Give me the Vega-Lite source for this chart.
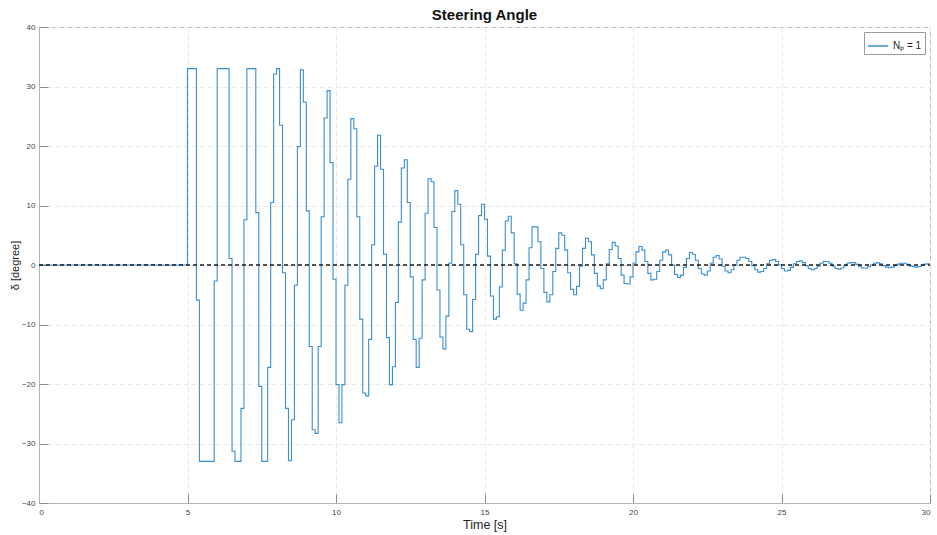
{
  "$schema": "https://vega.github.io/schema/vega-lite/v6.json",
  "width": 891,
  "height": 476,
  "autosize": "none",
  "padding": {"left": 39, "top": 27, "right": 7, "bottom": 32},
  "background": "white",
  "title": {"text": "Steering Angle", "font": "Liberation Sans", "fontSize": 15, "fontWeight": "bold", "color": "#111", "offset": 0, "anchor": "middle"},
  "config": {
    "view": {"stroke": "#b5b5b5", "strokeWidth": 1},
    "font": "Liberation Sans",
    "axis": {
      "domainColor": "#b5b5b5",
      "tickColor": "#8a8a8a",
      "gridColor": "#e9e9e9",
      "gridDash": [5, 3],
      "labelColor": "#444",
      "labelFont": "Liberation Sans",
      "labelFontSize": 8,
      "titleFont": "Liberation Sans",
      "titleColor": "#222",
      "titleFontWeight": "normal"
    },
    "legend": {
      "orient": "top-right",
      "offset": 5,
      "strokeColor": "#9a9a9a",
      "fillColor": "white",
      "padding": 3,
      "symbolType": "stroke",
      "symbolSize": 420,
      "symbolStrokeWidth": 1.5,
      "labelFont": "Liberation Sans",
      "labelFontSize": 10,
      "labelColor": "#222",
      "title": null
    }
  },
  "layer": [
    {
      "data": {"values": [
        {"t":0,"v":0},{"t":5.0,"v":33},{"t":5.1,"v":33},{"t":5.2,"v":33},{"t":5.3,"v":-5.9},{"t":5.4,"v":-33},{"t":5.5,"v":-33},{"t":5.6,"v":-33},{"t":5.7,"v":-33},{"t":5.8,"v":-33},{"t":5.9,"v":-2.7},
        {"t":6.0,"v":33},{"t":6.1,"v":33},{"t":6.2,"v":33},{"t":6.3,"v":33},{"t":6.4,"v":1.1},{"t":6.5,"v":-31.3},{"t":6.6,"v":-33},{"t":6.7,"v":-33},{"t":6.8,"v":-24.1},{"t":6.9,"v":7.6},
        {"t":7.0,"v":33},{"t":7.1,"v":33},{"t":7.2,"v":33},{"t":7.3,"v":8.8},{"t":7.4,"v":-20.4},{"t":7.5,"v":-33},{"t":7.6,"v":-33},{"t":7.7,"v":-17.2},{"t":7.8,"v":10.5},{"t":7.9,"v":32.1},
        {"t":8.0,"v":33},{"t":8.1,"v":23.5},{"t":8.2,"v":-1.3},{"t":8.3,"v":-24.1},{"t":8.4,"v":-32.9},{"t":8.5,"v":-26},{"t":8.6,"v":-3.4},{"t":8.7,"v":19.9},{"t":8.8,"v":32.8},{"t":8.9,"v":27.4},
        {"t":9.0,"v":9.1},{"t":9.1,"v":-13.7},{"t":9.2,"v":-27.7},{"t":9.3,"v":-28.3},{"t":9.4,"v":-13.7},{"t":9.5,"v":8.1},{"t":9.6,"v":24.7},{"t":9.7,"v":29.3},{"t":9.8,"v":17.2},{"t":9.9,"v":-2.4},
        {"t":10.0,"v":-20.1},{"t":10.1,"v":-26.5},{"t":10.2,"v":-20.1},{"t":10.3,"v":-3.4},{"t":10.4,"v":14.4},{"t":10.5,"v":24.6},{"t":10.6,"v":22.9},{"t":10.7,"v":8.1},{"t":10.8,"v":-9.1},{"t":10.9,"v":-21.5},
        {"t":11.0,"v":-22},{"t":11.1,"v":-12.5},{"t":11.2,"v":3.4},{"t":11.3,"v":16.6},{"t":11.4,"v":21.8},{"t":11.5,"v":16.1},{"t":11.6,"v":1.8},{"t":11.7,"v":-12.2},{"t":11.8,"v":-20.1},{"t":11.9,"v":-17.1},
        {"t":12.0,"v":-6.3},{"t":12.1,"v":7.2},{"t":12.2,"v":16.3},{"t":12.3,"v":17.7},{"t":12.4,"v":10.5},{"t":12.5,"v":-2.0},{"t":12.6,"v":-12.5},{"t":12.7,"v":-17.2},{"t":12.8,"v":-12.3},{"t":12.9,"v":-2.5},
        {"t":13.0,"v":8.7},{"t":13.1,"v":14.5},{"t":13.2,"v":14.0},{"t":13.3,"v":6.3},{"t":13.4,"v":-4.2},{"t":13.5,"v":-12.1},{"t":13.6,"v":-14.1},{"t":13.7,"v":-8.6},{"t":13.8,"v":0.3},{"t":13.9,"v":9.0},
        {"t":14.0,"v":12.5},{"t":14.1,"v":10.2},{"t":14.2,"v":3.4},{"t":14.3,"v":-5.0},{"t":14.4,"v":-10.8},{"t":14.5,"v":-11.2},{"t":14.6,"v":-5.8},{"t":14.7,"v":1.8},{"t":14.8,"v":8.3},{"t":14.9,"v":10.2},
        {"t":15.0,"v":7.7},{"t":15.1,"v":1.5},{"t":15.2,"v":-5.2},{"t":15.3,"v":-9.1},{"t":15.4,"v":-8.7},{"t":15.5,"v":-3.7},{"t":15.6,"v":2.5},{"t":15.7,"v":7.4},{"t":15.8,"v":8.2},{"t":15.9,"v":5.4},
        {"t":16.0,"v":0.2},{"t":16.1,"v":-4.9},{"t":16.2,"v":-7.6},{"t":16.3,"v":-6.4},{"t":16.4,"v":-2.5},{"t":16.5,"v":2.9},{"t":16.6,"v":6.4},{"t":16.7,"v":6.4},{"t":16.8,"v":3.9},{"t":16.9,"v":-0.6},
        {"t":17.0,"v":-4.6},{"t":17.1,"v":-6.2},{"t":17.2,"v":-5.0},{"t":17.3,"v":-1.1},{"t":17.4,"v":2.8},{"t":17.5,"v":5.4},{"t":17.6,"v":5.0},{"t":17.7,"v":2.5},{"t":17.8,"v":-1.3},{"t":17.9,"v":-4.1},
        {"t":18.0,"v":-5.0},{"t":18.1,"v":-3.6},{"t":18.2,"v":-0.2},{"t":18.3,"v":2.8},{"t":18.4,"v":4.5},{"t":18.5,"v":3.9},{"t":18.6,"v":1.7},{"t":18.7,"v":-1.4},{"t":18.8,"v":-3.5},{"t":18.9,"v":-4.0},
        {"t":19.0,"v":-2.5},{"t":19.1,"v":0.2},{"t":19.2,"v":2.6},{"t":19.3,"v":3.8},{"t":19.4,"v":3.2},{"t":19.5,"v":1.1},{"t":19.6,"v":-1.7},{"t":19.7,"v":-3.1},{"t":19.8,"v":-3.2},{"t":19.9,"v":-2.0},
        {"t":20.0,"v":0.3},{"t":20.1,"v":2.2},{"t":20.2,"v":3.1},{"t":20.3,"v":2.5},{"t":20.4,"v":0.6},{"t":20.5,"v":-1.4},{"t":20.6,"v":-2.5},{"t":20.7,"v":-2.4},{"t":20.8,"v":-1.1},{"t":20.9,"v":0.8},
        {"t":21.0,"v":2.2},{"t":21.1,"v":2.5},{"t":21.2,"v":1.7},{"t":21.3,"v":0},{"t":21.4,"v":-1.6},{"t":21.5,"v":-2.1},{"t":21.6,"v":-1.7},{"t":21.7,"v":-0.4},{"t":21.8,"v":1.1},{"t":21.9,"v":2.1},
        {"t":22.0,"v":1.8},{"t":22.1,"v":0.8},{"t":22.2,"v":-0.6},{"t":22.3,"v":-1.5},{"t":22.4,"v":-1.7},{"t":22.5,"v":-1.0},{"t":22.6,"v":0.3},{"t":22.7,"v":1.3},{"t":22.8,"v":1.6},{"t":22.9,"v":1.0},
        {"t":23.0,"v":-0.2},{"t":23.1,"v":-1.0},{"t":23.2,"v":-1.3},{"t":23.3,"v":-0.8},{"t":23.4,"v":0},{"t":23.5,"v":0.8},{"t":23.6,"v":1.3},{"t":23.7,"v":1.3},{"t":23.8,"v":1.1},{"t":23.9,"v":0.6},
        {"t":24.0,"v":-0.1},{"t":24.1,"v":-0.8},{"t":24.2,"v":-1.2},{"t":24.3,"v":-1.1},{"t":24.4,"v":-0.6},{"t":24.5,"v":0.2},{"t":24.6,"v":0.8},{"t":24.7,"v":0.9},{"t":24.8,"v":0.6},{"t":24.9,"v":0.0},
        {"t":25.0,"v":-0.6},{"t":25.1,"v":-1.0},{"t":25.2,"v":-0.9},{"t":25.3,"v":-0.4},{"t":25.4,"v":0.2},{"t":25.5,"v":0.6},{"t":25.6,"v":0.7},{"t":25.7,"v":0.4},{"t":25.8,"v":-0.1},{"t":25.9,"v":-0.6},
        {"t":26.0,"v":-0.8},{"t":26.1,"v":-0.6},{"t":26.2,"v":-0.2},{"t":26.3,"v":0.3},{"t":26.4,"v":0.6},{"t":26.5,"v":0.6},{"t":26.6,"v":0.3},{"t":26.7,"v":-0.2},{"t":26.8,"v":-0.6},{"t":26.9,"v":-0.7},
        {"t":27.0,"v":-0.5},{"t":27.1,"v":-0.1},{"t":27.2,"v":0.3},{"t":27.3,"v":0.4},{"t":27.4,"v":0.4},{"t":27.5,"v":0.1},{"t":27.6,"v":-0.3},{"t":27.7,"v":-0.5},{"t":27.8,"v":-0.5},{"t":27.9,"v":-0.3},
        {"t":28.0,"v":0.0},{"t":28.1,"v":0.3},{"t":28.2,"v":0.35},{"t":28.3,"v":0.2},{"t":28.4,"v":-0.1},{"t":28.5,"v":-0.35},{"t":28.6,"v":-0.45},{"t":28.7,"v":-0.35},{"t":28.8,"v":-0.1},{"t":28.9,"v":0.15},
        {"t":29.0,"v":0.3},{"t":29.1,"v":0.3},{"t":29.2,"v":0.1},{"t":29.3,"v":-0.15},{"t":29.4,"v":-0.3},{"t":29.5,"v":-0.35},{"t":29.6,"v":-0.25},{"t":29.7,"v":0.0},{"t":29.8,"v":0.15},{"t":29.9,"v":0.2},
        {"t":30.0,"v":0.2}
      ]},
      "mark": {"type": "line", "interpolate": "step-after", "strokeWidth": 1.1, "clip": true},
      "encoding": {
        "x": {"field": "t", "type": "quantitative", "scale": {"domain": [0, 30], "nice": false, "zero": false},
              "axis": {"values": [0, 5, 10, 15, 20, 25, 30], "title": "Time [s]", "titleFontSize": 12.5, "titlePadding": 2, "tickSize": -9, "labelPadding": 14, "grid": true}},
        "y": {"field": "v", "type": "quantitative", "scale": {"domain": [-40, 40], "nice": false},
              "axis": {"values": [-40, -30, -20, -10, 0, 10, 20, 30, 40], "title": "δ [degree]", "titleFontSize": 11, "titlePadding": 1, "tickSize": -9, "labelPadding": 13, "grid": true}},
        "color": {"datum": "Nₚ = 1", "type": "nominal", "scale": {"range": ["#3a8fd0"]}}
      }
    },
    {
      "data": {"values": [{"t": 0, "v": 0}, {"t": 30, "v": 0}]},
      "mark": {"type": "line", "color": "#1a1a1a", "strokeDash": [4, 3], "strokeWidth": 1.3},
      "encoding": {
        "x": {"field": "t", "type": "quantitative"},
        "y": {"field": "v", "type": "quantitative"}
      }
    }
  ]
}
